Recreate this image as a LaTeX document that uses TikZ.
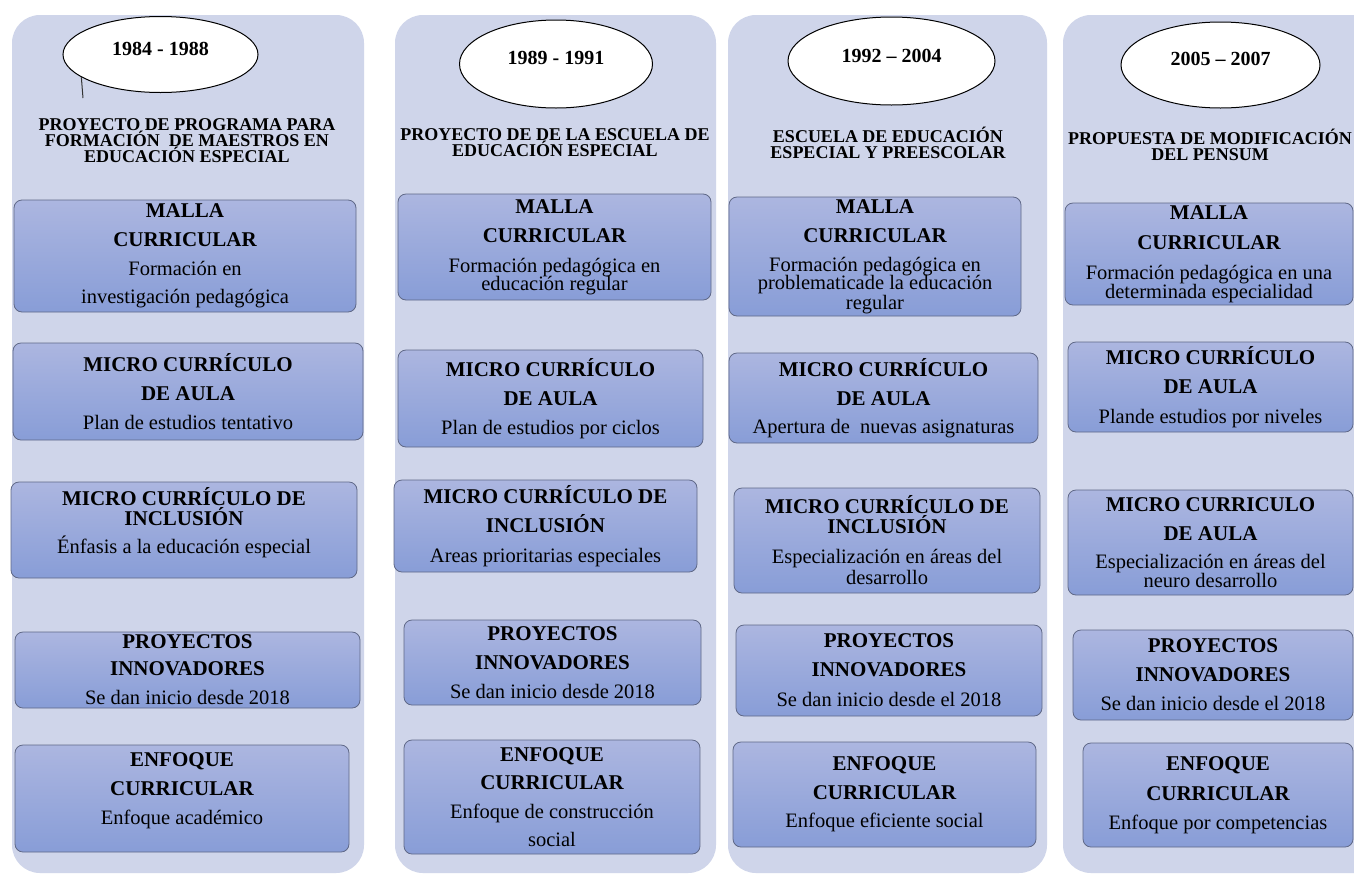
\documentclass[tikz,border=0pt]{standalone}
\usepackage{fontspec}
\setmainfont{Liberation Serif}
\usepackage{xcolor}
\usepackage{tikz}
\usetikzlibrary{shapes.geometric}

\definecolor{panel}{RGB}{207,213,234}
\definecolor{cajatop}{RGB}{172,182,224}
\definecolor{cajabot}{RGB}{136,157,215}
\definecolor{cajaline}{RGB}{95,104,135}

\newcommand{\enc}[1]{{\bfseries\fontsize{21}{18}\selectfont #1}}
\AtBeginDocument{\lineskiplimit=-50pt}

\begin{document}
\begin{tikzpicture}[x=1pt,y=1pt,
  caja/.style={draw=cajaline, line width=0.8pt, rounded corners=8pt,
    top color=cajatop, bottom color=cajabot, align=center, inner sep=0pt,
    font=\fontsize{20.5}{18}\selectfont},
  periodo/.style={ellipse, draw=black, line width=1pt, fill=white, inner sep=0pt},
  anio/.style={font=\bfseries\fontsize{20}{20}\selectfont, inner sep=0pt},
  titulo/.style={align=center, inner sep=0pt,
    font=\bfseries\fontsize{18}{16}\selectfont}]
\clip (0,0) rectangle (1354,-876);
\fill [white] (0,0) rectangle (1354,-876);
% columnas
\fill [panel, rounded corners=28pt] (12,-15) rectangle (364,-873);
\fill [panel, rounded corners=28pt] (395,-15) rectangle (716,-873);
\fill [panel, rounded corners=28pt] (728,-15) rectangle (1047,-873);
\fill [panel, rounded corners=28pt] (1063,-15) rectangle (1420,-873);
% periodos
\node [periodo, minimum width=195pt, minimum height=76pt] (eA) at (160.5,-54.5) {};
\node [anio] (yA) at ([yshift=6pt]eA.center) {1984 - 1988};
\coordinate (marca) at (83,-98);
\draw [line width=1pt, black!80] (eA.196) -- (marca);
\node [periodo, minimum width=193pt, minimum height=88pt] (eB) at (556,-64) {};
\node [anio] (yB) at ([yshift=6pt]eB.center) {1989 - 1991};
\node [periodo, minimum width=207pt, minimum height=88pt] (eC) at (891.5,-61) {};
\node [anio] (yC) at ([yshift=5pt]eC.center) {1992 -- 2004};
\node [periodo, minimum width=199pt, minimum height=86pt] (eD) at (1220.5,-65) {};
\node [anio] (yD) at ([yshift=6pt]eD.center) {2005 -- 2007};
% titulos
\node [titulo] (tA) at (187,-141) {PROYECTO DE PROGRAMA PARA\\FORMACIÓN~ DE MAESTROS EN\\EDUCACIÓN ESPECIAL};
\node [titulo] (tB) at (555,-143) {PROYECTO DE DE LA ESCUELA DE\\EDUCACIÓN ESPECIAL};
\node [titulo] (tC) at (888,-143) {ESCUELA DE EDUCACIÓN\\ESPECIAL Y PREESCOLAR};
\node [titulo] (tD) at (1210,-145) {PROPUESTA DE MODIFICACIÓN\\DEL PENSUM};
% 1984 - 1988
\node [caja, minimum width=342pt, minimum height=112pt] (mallaA) at (185,-256)
  {\enc{MALLA}\\[11pt]\enc{CURRICULAR}\\[11pt]Formación en\\[10pt]investigación pedagógica};
\node [caja, minimum width=350pt, minimum height=97pt] (aulaA) at (188,-391.5)
  {\enc{MICRO CURRÍCULO}\\[11pt]\enc{DE AULA}\\[11pt]Plan de estudios tentativo};
\node [caja, minimum width=346pt, minimum height=96pt, text depth=20pt] (inclA) at (184,-530)
  {\enc{MICRO CURRÍCULO DE}\\[2pt]\enc{INCLUSIÓN}\\[10pt]Énfasis a la educación especial};
\node [caja, minimum width=345pt, minimum height=76pt] (proyA) at (187.5,-670)
  {\enc{PROYECTOS}\\[9pt]\enc{INNOVADORES}\\[11pt]Se dan inicio desde 2018};
\node [caja, minimum width=334pt, minimum height=107pt, text depth=20pt] (enfA) at (182,-798.5)
  {\enc{ENFOQUE}\\[11pt]\enc{CURRICULAR}\\[11pt]Enfoque académico};
% 1989 - 1991
\node [caja, minimum width=313pt, minimum height=106pt] (mallaB) at (554.5,-247)
  {\enc{MALLA}\\[11pt]\enc{CURRICULAR}\\[12pt]Formación pedagógica en\\educación regular};
\node [caja, minimum width=305pt, minimum height=97pt] (aulaB) at (550.5,-398.5)
  {\enc{MICRO CURRÍCULO}\\[11pt]\enc{DE AULA}\\[11pt]Plan de estudios por ciclos};
\node [caja, minimum width=303pt, minimum height=92pt] (inclB) at (545.5,-526)
  {\enc{MICRO CURRÍCULO DE}\\[11pt]\enc{INCLUSIÓN}\\[12pt]Areas prioritarias especiales};
\node [caja, minimum width=297pt, minimum height=85pt] (proyB) at (552.5,-662.5)
  {\enc{PROYECTOS}\\[11pt]\enc{INNOVADORES}\\[11pt]Se dan inicio desde 2018};
\node [caja, minimum width=296pt, minimum height=114pt] (enfB) at (552,-797)
  {\enc{ENFOQUE}\\[10pt]\enc{CURRICULAR}\\[11pt]Enfoque de construcción\\[10pt]social};
% 1992 - 2004
\node [caja, minimum width=292pt, minimum height=119pt] (mallaC) at (875,-256.5)
  {\enc{MALLA}\\[11pt]\enc{CURRICULAR}\\[11pt]Formación pedagógica en\\problematicade la educación\\[2pt]regular};
\node [caja, minimum width=309pt, minimum height=90pt] (aulaC) at (883.5,-398)
  {\enc{MICRO CURRÍCULO}\\[11pt]\enc{DE AULA}\\[10pt]Apertura de~ nuevas asignaturas};
\node [caja, minimum width=306pt, minimum height=105pt] (inclC) at (887,-540.5)
  {\enc{MICRO CURRÍCULO DE}\\[2pt]\enc{INCLUSIÓN}\\[12pt]Especialización en áreas del\\[3pt]desarrollo};
\node [caja, minimum width=306pt, minimum height=91pt] (proyC) at (889,-670.5)
  {\enc{PROYECTOS}\\[11pt]\enc{INNOVADORES}\\[12pt]Se dan inicio desde el 2018};
\node [caja, minimum width=303pt, minimum height=105pt] (enfC) at (884.5,-794.5)
  {\enc{ENFOQUE}\\[11pt]\enc{CURRICULAR}\\[10pt]Enfoque eficiente social};
% 2005 - 2007
\node [caja, minimum width=288pt, minimum height=102pt] (mallaD) at (1209,-254)
  {\enc{MALLA}\\[12pt]\enc{CURRICULAR}\\[12pt]Formación pedagógica en una\\[1pt]determinada especialidad};
\node [caja, minimum width=285pt, minimum height=90pt] (aulaD) at (1210.5,-387)
  {\enc{MICRO CURRÍCULO}\\[11pt]\enc{DE AULA}\\[12pt]Plande estudios por niveles};
\node [caja, minimum width=285pt, minimum height=105pt] (inclD) at (1210.5,-542.5)
  {\enc{MICRO CURRICULO}\\[11pt]\enc{DE AULA}\\[10pt]Especialización en áreas del\\[1pt]neuro desarrollo};
\node [caja, minimum width=280pt, minimum height=90pt] (proyD) at (1213,-675)
  {\enc{PROYECTOS}\\[11pt]\enc{INNOVADORES}\\[11pt]Se dan inicio desde el 2018};
\node [caja, minimum width=270pt, minimum height=104pt] (enfD) at (1218,-795)
  {\enc{ENFOQUE}\\[12pt]\enc{CURRICULAR}\\[11pt]Enfoque por competencias};
\end{tikzpicture}
\end{document}
